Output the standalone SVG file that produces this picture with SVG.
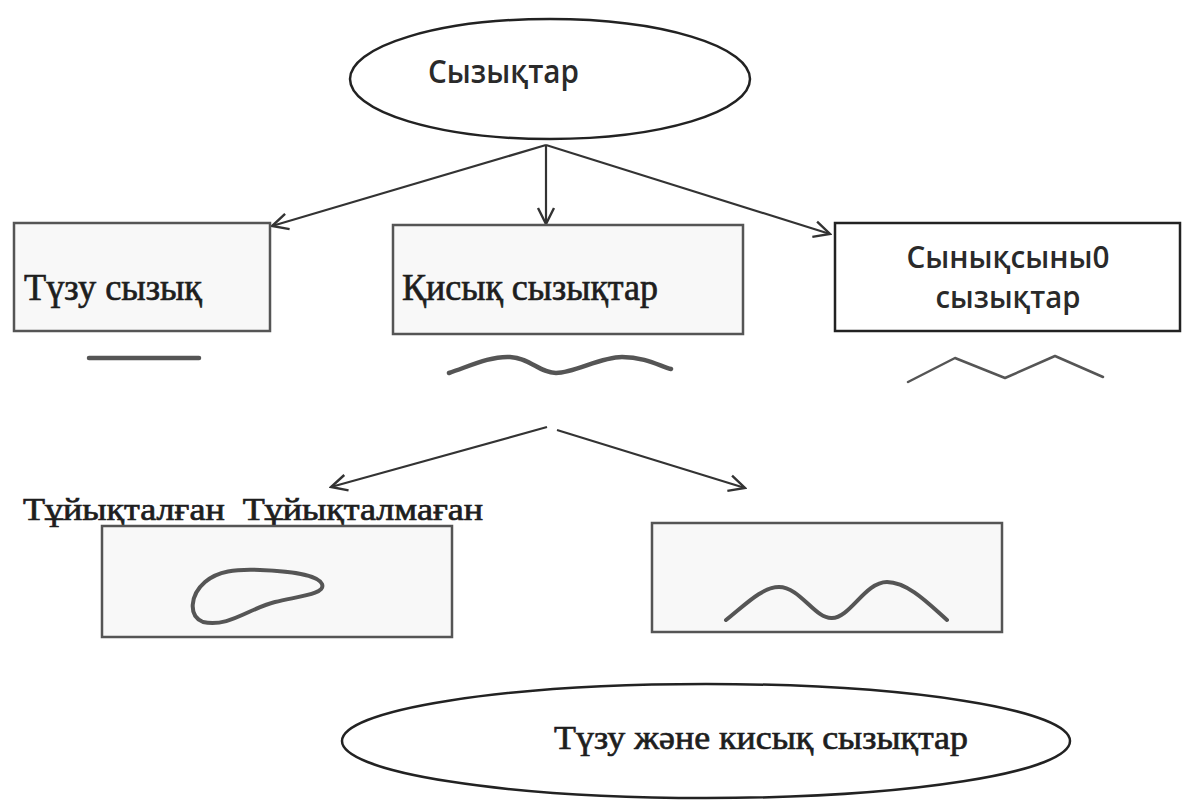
<svg xmlns="http://www.w3.org/2000/svg" width="1182" height="801" viewBox="0 0 1182 801">
  <defs>
    <marker id="arrow" viewBox="0 0 20 20" refX="18" refY="10" markerWidth="20" markerHeight="20" markerUnits="userSpaceOnUse" orient="auto">
      <path d="M2,2 L18,10 L2,18" fill="none" stroke="#333" stroke-width="2.4"/>
    </marker>
  </defs>
  <style>
    .sans { font-family: "Open Sans", "DejaVu Sans", sans-serif; font-weight: 600; fill: #2a2a2a; }
    .serif { font-family: "Liberation Serif", "DejaVu Serif", serif; fill: #1e1e1e; stroke: #1e1e1e; stroke-width: 0.7; }
    .box { fill: #f8f8f8; stroke: #555; stroke-width: 2.5; }
    .oval { fill: #fff; stroke: #222; stroke-width: 2.5; }
    .conn { stroke: #333; stroke-width: 2.2; fill: none; marker-end: url(#arrow); }
    .sample { fill: none; stroke: #555; stroke-linecap: round; stroke-linejoin: round; }
  </style>
  <rect width="1182" height="801" fill="#fff"/>

  <!-- connectors -->
  <g id="connectors">
    <line class="conn" x1="546" y1="145" x2="272" y2="226"/>
    <line class="conn" x1="546" y1="145" x2="546" y2="224"/>
    <line class="conn" x1="546" y1="145" x2="830" y2="234"/>
    <line class="conn" x1="547" y1="427" x2="331" y2="487"/>
    <line class="conn" x1="557" y1="430" x2="745" y2="488"/>
  </g>

  <!-- root -->
  <g id="node-root">
    <ellipse class="oval" cx="550" cy="79" rx="200" ry="60"/>
    <text class="sans" x="428" y="83" font-size="32" textLength="151" lengthAdjust="spacingAndGlyphs">Сызықтар</text>
  </g>

  <!-- straight line -->
  <g id="node-straight">
    <rect class="box" x="14" y="223" width="256" height="108"/>
    <text class="serif" x="24" y="300" font-size="38" textLength="178" lengthAdjust="spacingAndGlyphs">Түзу сызық</text>
    <line class="sample" x1="89" y1="358" x2="199" y2="358" stroke-width="4.5"/>
  </g>

  <!-- curved lines -->
  <g id="node-curved">
    <rect class="box" x="393" y="225" width="350" height="109"/>
    <text class="serif" x="402" y="300" font-size="38" textLength="256" lengthAdjust="spacingAndGlyphs">Қисық сызықтар</text>
    <path class="sample" stroke-width="4.5" d="M449,373 C470,366 490,356 510,357 C530,358 540,373 556,373 C575,373 600,357 622,357 C645,357 660,366 671,369"/>
  </g>

  <!-- broken lines -->
  <g id="node-broken">
    <rect x="835" y="223" width="345" height="108" fill="#fff" stroke="#222" stroke-width="2.5"/>
    <text class="sans" x="1008" y="268" font-size="31" text-anchor="middle" textLength="203" lengthAdjust="spacingAndGlyphs">Сынықсыны0</text>
    <text class="sans" x="1008" y="308" font-size="31" text-anchor="middle" textLength="145" lengthAdjust="spacingAndGlyphs">сызықтар</text>
    <polyline class="sample" stroke="#777" stroke-width="2.5" points="908,382 955,358 1005,378 1055,356 1103,377"/>
  </g>

  <!-- sub-type labels -->
  <text class="serif" x="23" y="520" font-size="31" textLength="460" lengthAdjust="spacingAndGlyphs" xml:space="preserve">Тұйықталған  Тұйықталмаған</text>

  <!-- closed curve -->
  <g id="node-closed">
    <rect class="box" x="102" y="526" width="350" height="111"/>
    <path class="sample" stroke="#444" stroke-width="4" d="M203,622 C188,616 190,595 205,582 C218,571 235,569 260,570 C290,571 318,575 322,584 C326,594 300,596 275,602 C250,608 228,628 203,622 Z"/>
  </g>

  <!-- open curve -->
  <g id="node-open">
    <rect class="box" x="652" y="523" width="350" height="109"/>
    <path class="sample" stroke="#444" stroke-width="4" d="M726,620 C745,605 762,587 779,587 C800,587 815,619 832,618 C850,618 865,582 887,582 C908,582 930,605 947,620"/>
  </g>

  <!-- summary -->
  <g id="node-summary">
    <ellipse class="oval" cx="706" cy="741" rx="364" ry="57"/>
    <text class="serif" x="554" y="749" font-size="34" textLength="414" lengthAdjust="spacingAndGlyphs">Түзу және кисық сызықтар</text>
  </g>
</svg>
